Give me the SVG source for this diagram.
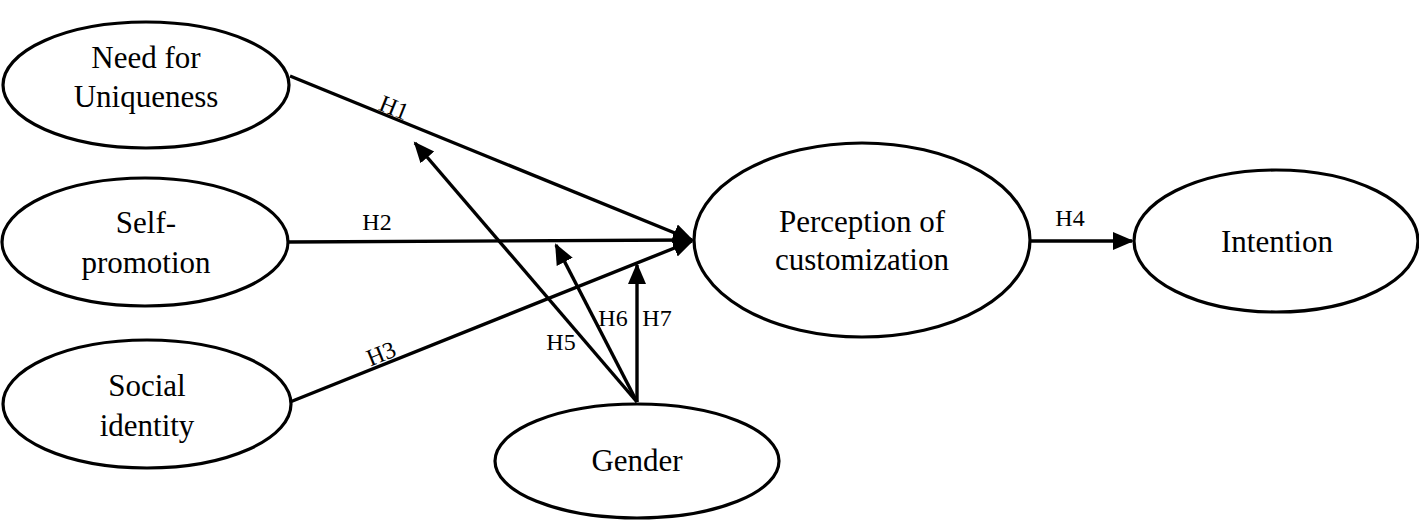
<svg xmlns="http://www.w3.org/2000/svg" width="1419" height="520" viewBox="0 0 1419 520">
<style>
.node ellipse{fill:#fff;stroke:#000;stroke-width:3.2}
.node text{font-family:"Liberation Serif","Times New Roman",serif;font-size:31px;fill:#000;text-anchor:middle}
.edges line{stroke:#000;stroke-width:3.4}
.lbl{font-family:"Liberation Serif","Times New Roman",serif;font-size:24px;fill:#000;text-anchor:middle}
</style>
<defs>
<marker id="ah" markerUnits="userSpaceOnUse" markerWidth="22" markerHeight="20" viewBox="0 0 22 20" refX="19" refY="9" orient="auto">
<path d="M0,0 L21,9 L0,18 z" fill="#000"/>
</marker>
</defs>
<g id="n-uniqueness" class="node">
<ellipse cx="146" cy="85" rx="143" ry="63"/>
<text x="146" y="68">Need for</text>
<text x="146" y="107">Uniqueness</text>
</g>
<g id="n-selfpromotion" class="node">
<ellipse cx="145" cy="242" rx="143" ry="64"/>
<text x="146" y="233">Self-</text>
<text x="146" y="273">promotion</text>
</g>
<g id="n-social" class="node">
<ellipse cx="147" cy="404" rx="144" ry="64"/>
<text x="147" y="396">Social</text>
<text x="147" y="436">identity</text>
</g>
<g id="n-gender" class="node">
<ellipse cx="637" cy="461" rx="142" ry="57"/>
<text x="637" y="471">Gender</text>
</g>
<g id="n-perception" class="node">
<ellipse cx="862" cy="240" rx="168" ry="97"/>
<text x="862" y="232">Perception of</text>
<text x="862" y="270">customization</text>
</g>
<g id="n-intention" class="node">
<ellipse cx="1276" cy="241" rx="142" ry="71"/>
<text x="1277" y="252">Intention</text>
</g>
<g id="edges" class="edges">
<line x1="290" y1="76" x2="692" y2="240" marker-end="url(#ah)"/>
<line x1="288" y1="242" x2="692" y2="240" marker-end="url(#ah)"/>
<line x1="290" y1="402" x2="692" y2="241" marker-end="url(#ah)"/>
<line x1="1031" y1="241" x2="1132" y2="241" marker-end="url(#ah)"/>
<line x1="637" y1="402" x2="415" y2="143" marker-end="url(#ah)"/>
<line x1="637" y1="402" x2="556" y2="245" marker-end="url(#ah)"/>
<line x1="637" y1="402" x2="637" y2="265" marker-end="url(#ah)"/>
<text class="lbl" transform="translate(391,115) rotate(22)">H1</text>
<text class="lbl" x="377" y="230">H2</text>
<text class="lbl" transform="translate(384,361) rotate(-22)">H3</text>
<text class="lbl" x="1070" y="226">H4</text>
<text class="lbl" x="561" y="350">H5</text>
<text class="lbl" x="613" y="326">H6</text>
<text class="lbl" x="657" y="326">H7</text>
</g>
</svg>
